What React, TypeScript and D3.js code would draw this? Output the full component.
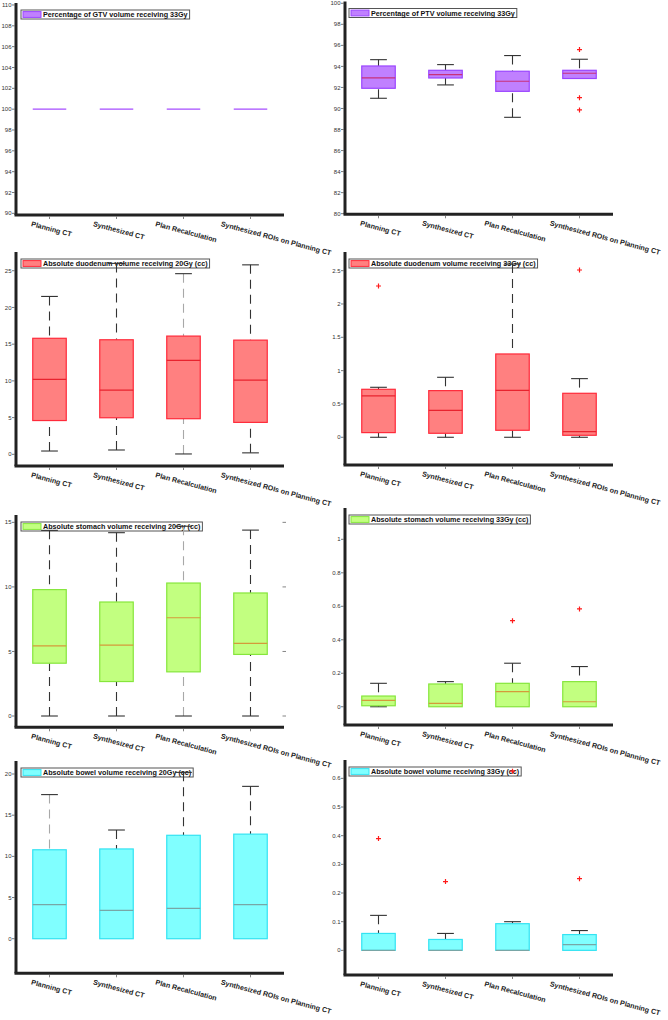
import React, { useEffect, useRef } from "react";
import * as d3 from "d3";

const categories = ["Planning CT", "Synthesized CT", "Plan Recalculation", "Synthesized ROIs on Planning CT"];

// each box: [lower whisker, Q1, median, Q3, upper whisker]
const gtv33Boxes = [[100, 100, 100, 100, 100], [100, 100, 100, 100, 100], [100, 100, 100, 100, 100], [100, 100, 100, 100, 100]];
const gtv33Outliers = [[], [], [], []];
const gtvTicks = [90, 92, 94, 96, 98, 100, 102, 104, 106, 108, 110];

const ptv33Boxes = [[90.97, 91.92, 92.9, 94.04, 94.64], [92.24, 92.9, 93.22, 93.63, 94.17], [89.16, 91.63, 92.59, 93.54, 95.03], [92.85, 92.85, 93.35, 93.63, 94.68]];
const ptv33Outliers = [[], [], [], [95.6, 91.03, 89.86]];
const ptvTicks = [80, 82, 84, 86, 88, 90, 92, 94, 96, 98, 100];

const duo20Boxes = [[0.45, 4.6, 10.2, 15.8, 21.5], [0.59, 4.98, 8.75, 15.6, 26.0], [0.05, 4.85, 12.8, 16.1, 24.6], [0.2, 4.35, 10.1, 15.55, 25.8]];
const duo20Outliers = [[], [], [], []];
const duo20Ticks = [0, 5, 10, 15, 20, 25];

const duo33Boxes = [[0, 0.07, 0.62, 0.72, 0.75], [0, 0.06, 0.405, 0.7, 0.9], [0, 0.105, 0.705, 1.25, 2.6], [0, 0.03, 0.085, 0.66, 0.88]];
const duo33Outliers = [[2.27], [], [], [2.51]];
const duo33Ticks = [0, 0.5, 1, 1.5, 2, 2.5];

const sto20Boxes = [[0, 4.09, 5.44, 9.79, 14.38], [0, 2.67, 5.49, 8.83, 14.2], [0, 3.42, 7.61, 10.3, 14.7], [0, 4.77, 5.62, 9.53, 14.4]];
const sto20Outliers = [[], [], [], []];
const sto20Ticks = [0, 5, 10, 15];

const sto33Boxes = [[0, 0.006, 0.038, 0.064, 0.14], [0, 0, 0.02, 0.136, 0.15], [0, 0, 0.09, 0.14, 0.26], [0, 0, 0.03, 0.15, 0.24]];
const sto33Outliers = [[], [], [0.514], [0.584]];
const sto33Ticks = [0, 0.2, 0.4, 0.6, 0.8, 1];

const bow20Boxes = [[0, 0, 4.13, 10.8, 17.5], [0, 0, 3.44, 10.9, 13.2], [0, 0, 3.69, 12.56, 20.2], [0, 0, 4.13, 12.7, 18.5]];
const bow20Outliers = [[], [], [], []];
const bow20Ticks = [0, 5, 10, 15, 20];

const bow33Boxes = [[0, 0, 0, 0.059, 0.122], [0, 0, 0, 0.038, 0.059], [0, 0, 0, 0.093, 0.1], [0, 0, 0.02, 0.055, 0.069]];
const bow33Outliers = [[0.39], [0.24], [0.625], [0.25]];
const bow33Ticks = [0, 0.1, 0.2, 0.3, 0.4, 0.5, 0.6];

const columns = [
  { left: 16, right: 284 },
  { left: 345, right: 613 },
];

const themes = {
  gtv: { fill: "#c080ff", stroke: "#9a45ff", median: "#a64dff" },
  ptv: { fill: "#c080ff", stroke: "#9a45ff", median: "#c8307a" },
  red: { fill: "#ff8080", stroke: "#ff2a3a", median: "#e8232e" },
  green: { fill: "#c2ff80", stroke: "#86e63c", median: "#d49a3a" },
  cyan: { fill: "#80ffff", stroke: "#33e3f2", median: "#78a6a6" },
};

const panels = [
  { title: "Percentage of GTV volume receiving 33Gy", boxes: gtv33Boxes, outliers: gtv33Outliers, ticks: gtvTicks, col: 0, top: 3, bottom: 215, domain: [89.84, 110.19], theme: themes.gtv, light: [] as number[], rightTicks: false },
  { title: "Percentage of PTV volume receiving 33Gy", boxes: ptv33Boxes, outliers: ptv33Outliers, ticks: ptvTicks, col: 1, top: 1.5, bottom: 214.3, domain: [79.94, 100.17], theme: themes.ptv, light: [] as number[], rightTicks: false },
  { title: "Absolute duodenum volume receiving 20Gy (cc)", boxes: duo20Boxes, outliers: duo20Outliers, ticks: duo20Ticks, col: 0, top: 252, bottom: 466, domain: [-1.59, 27.55], theme: themes.red, light: [2], rightTicks: false },
  { title: "Absolute duodenum volume receiving 33Gy (cc)", boxes: duo33Boxes, outliers: duo33Outliers, ticks: duo33Ticks, col: 1, top: 252, bottom: 465, domain: [-0.416, 2.78], theme: themes.red, light: [] as number[], rightTicks: false },
  { title: "Absolute stomach volume receiving 20Gy (cc)", boxes: sto20Boxes, outliers: sto20Outliers, ticks: sto20Ticks, col: 0, top: 515, bottom: 727.3, domain: [-0.875, 15.57], theme: themes.green, light: [2], rightTicks: true },
  { title: "Absolute stomach volume receiving 33Gy (cc)", boxes: sto33Boxes, outliers: sto33Outliers, ticks: sto33Ticks, col: 1, top: 508, bottom: 725, domain: [-0.109, 1.187], theme: themes.green, light: [] as number[], rightTicks: false },
  { title: "Absolute bowel volume receiving 20Gy (cc)", boxes: bow20Boxes, outliers: bow20Outliers, ticks: bow20Ticks, col: 0, top: 761, bottom: 973.3, domain: [-4.2, 21.58], theme: themes.cyan, light: [0], rightTicks: false },
  { title: "Absolute bowel volume receiving 33Gy (cc)", boxes: bow33Boxes, outliers: bow33Outliers, ticks: bow33Ticks, col: 1, top: 760, bottom: 975, domain: [-0.086, 0.664], theme: themes.cyan, light: [] as number[], rightTicks: false },
];

const FONT = "'Liberation Sans', Arial, sans-serif";

export default function App() {
  const ref = useRef<SVGSVGElement>(null);

  useEffect(() => {
    const svg = d3.select(ref.current);
    svg.selectAll("*").remove();

    panels.forEach((p) => {
      const c = columns[p.col];
      const x = d3.scaleBand<string>().domain(categories).range([c.left, c.right]);
      const y = d3.scaleLinear().domain(p.domain).range([p.bottom, p.top]);
      const bw = x.bandwidth() / 2;
      const capW = x.bandwidth() / 4;
      const g = svg.append("g");

      // legend (drawn first, marks overprint it)
      const lx = c.left + (p.col === 0 ? 5 : 4);
      const ly = p.top + 7;
      const lrect = g.append("rect").attr("x", lx).attr("y", ly).attr("height", 9)
        .attr("fill", "#fff").attr("stroke", "#555").attr("stroke-width", 1);
      g.append("rect").attr("x", lx + 2).attr("y", ly + 1.6).attr("width", 18).attr("height", 5.8)
        .attr("fill", p.theme.fill).attr("stroke", p.theme.stroke).attr("stroke-width", 1);
      const lt = g.append("text").attr("x", lx + 22).attr("y", ly + 7.1)
        .attr("font-family", FONT).attr("font-weight", "bold").attr("font-size", 7.2)
        .attr("fill", "#111").text(p.title);
      const tw = (lt.node() as SVGTextElement).getComputedTextLength();
      lrect.attr("width", tw + 24);

      // y ticks
      p.ticks.forEach((t) => {
        g.append("line").attr("x1", c.left - 4).attr("x2", c.left - 1.5)
          .attr("y1", y(t)).attr("y2", y(t)).attr("stroke", "#555").attr("stroke-width", 0.8);
        g.append("text").attr("x", c.left - 4.5).attr("y", y(t)).attr("dy", "0.35em")
          .attr("text-anchor", "end").attr("font-family", FONT).attr("font-size", 6)
          .attr("fill", "#333").text(String(t));
        if (p.rightTicks) {
          g.append("line").attr("x1", c.right - 1.5).attr("x2", c.right + 2)
            .attr("y1", y(t)).attr("y2", y(t)).attr("stroke", "#777").attr("stroke-width", 0.9);
        }
      });

      // boxes
      p.boxes.forEach((b, i) => {
        const cx = (x(categories[i]) as number) + x.bandwidth() / 2;
        const [lo, q1, med, q3, hi] = b;
        const wColor = p.light.includes(i) ? "#a8a8a8" : "#333";
        if (hi - q3 > 1e-9) {
          g.append("line").attr("x1", cx).attr("x2", cx).attr("y1", y(hi)).attr("y2", y(q3))
            .attr("stroke", wColor).attr("stroke-width", 1.1).attr("stroke-dasharray", "9,6");
          g.append("line").attr("x1", cx - capW / 2).attr("x2", cx + capW / 2)
            .attr("y1", y(hi)).attr("y2", y(hi)).attr("stroke", "#333").attr("stroke-width", 1.1);
        }
        if (q1 - lo > 1e-9) {
          g.append("line").attr("x1", cx).attr("x2", cx).attr("y1", y(lo)).attr("y2", y(q1))
            .attr("stroke", wColor).attr("stroke-width", 1.1).attr("stroke-dasharray", "9,6");
          g.append("line").attr("x1", cx - capW / 2).attr("x2", cx + capW / 2)
            .attr("y1", y(lo)).attr("y2", y(lo)).attr("stroke", "#333").attr("stroke-width", 1.1);
        }
        g.append("rect").attr("x", cx - bw / 2).attr("width", bw)
          .attr("y", y(q3)).attr("height", Math.max(0, y(q1) - y(q3)))
          .attr("fill", p.theme.fill).attr("stroke", p.theme.stroke).attr("stroke-width", 1.2);
        g.append("line").attr("x1", cx - bw / 2).attr("x2", cx + bw / 2)
          .attr("y1", y(med)).attr("y2", y(med)).attr("stroke", p.theme.median).attr("stroke-width", 1.2);
        p.outliers[i].forEach((o) => {
          const oy = y(o);
          g.append("path").attr("d", `M${cx - 2.5},${oy}H${cx + 2.5}M${cx},${oy - 2.5}V${oy + 2.5}`)
            .attr("stroke", "#ff1a1a").attr("stroke-width", 1.2).attr("fill", "none");
        });
      });

      // axes
      g.append("line").attr("x1", c.left).attr("x2", c.left).attr("y1", p.top).attr("y2", p.bottom)
        .attr("stroke", "#222").attr("stroke-width", 3);
      g.append("line").attr("x1", c.left - 1.5).attr("x2", c.right).attr("y1", p.bottom).attr("y2", p.bottom)
        .attr("stroke", "#222").attr("stroke-width", 3);

      // x ticks and labels
      categories.forEach((cat) => {
        const cx = (x(cat) as number) + x.bandwidth() / 2;
        g.append("line").attr("x1", cx).attr("x2", cx).attr("y1", p.bottom + 1.5).attr("y2", p.bottom + 4)
          .attr("stroke", "#666").attr("stroke-width", 0.8);
        const t = g.append("text").attr("font-family", FONT).attr("font-weight", "bold")
          .attr("font-size", 7.1).attr("fill", "#222").text(cat);
        const w = (t.node() as SVGTextElement).getComputedTextLength();
        const sx = cx - Math.min(w * 0.45, 30);
        const sy = p.bottom + 11;
        t.attr("transform", `translate(${sx},${sy}) rotate(15)`);
      });
    });
  }, []);

  return (
    <svg ref={ref} width={668} height={1020}
      style={{ position: "absolute", left: 0, top: 0, background: "#fff" }} />
  );
}
